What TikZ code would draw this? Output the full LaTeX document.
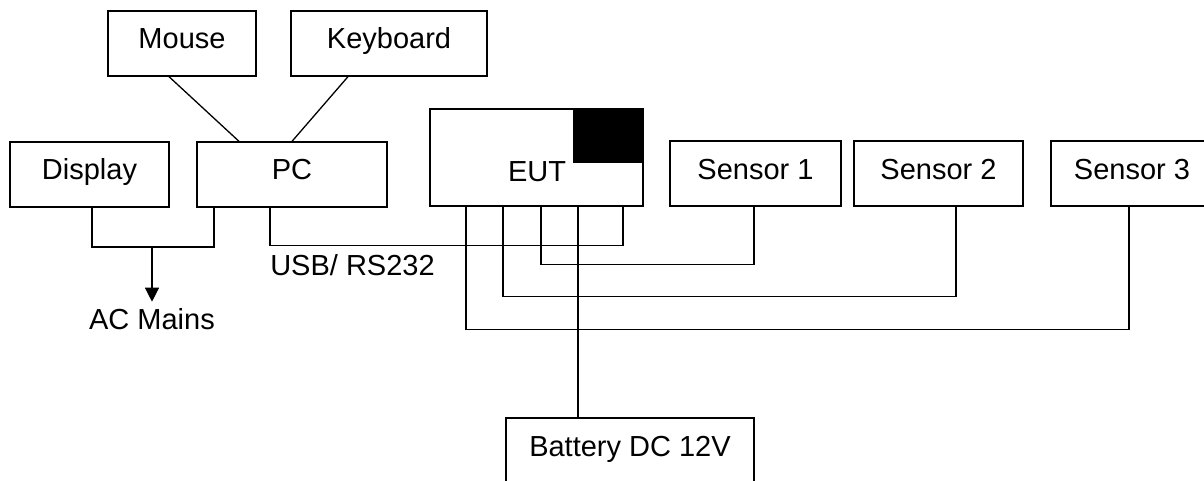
\documentclass[tikz,border=0pt]{standalone}
\usepackage{fontspec}
\setmainfont{Liberation Sans}
\usetikzlibrary{arrows.meta,positioning}
\newcommand{\diagfont}{\fontsize{29}{34}\selectfont}
\begin{document}
\begin{tikzpicture}[x=1pt,y=-1pt,line width=1.3pt,>={Triangle[width=14pt,length=14pt]},
   every node/.style={font=\diagfont},
   box/.style={draw,line width=1.3pt,minimum height=65pt,inner sep=0pt,
     text height=21pt,text depth=10pt}]
  \clip (0,0) rectangle (1204,481);
  \node[box,minimum width=148pt] (mouse) at (182,43.5) {Mouse};
  \node[box,minimum width=196pt] (keyboard) at (389,43.5) {Keyboard};
  \node[box,minimum width=159pt] (display) at (89.5,174.5) {Display};
  \node[box,minimum width=190pt] (pc) at (292,174.5) {PC};
  \node[box,minimum width=213pt,minimum height=97pt] (eut) at (536.5,157.5) {};
  \fill (eut.north east) rectangle ++(-71,55);
  \node (euttext) at (537,172) {EUT};
  \node[box,minimum width=171pt] (sensor1) at (755.5,173.5) {Sensor 1};
  \node[box,minimum width=169pt] (sensor2) at (938.5,173.5) {Sensor 2};
  \node[box,minimum width=162pt] (sensor3) at (1132,173.5) {Sensor 3};
  \node[box,minimum width=248pt] (battery) at (630,450.5) {Battery DC 12V};
  \node[inner sep=6pt] (acmains) at (152,319) {AC Mains};
  \node (usblabel) at (352.5,265) {USB/ RS232};
  \coordinate (acjoin) at (152,247);
  \draw ([xshift=-13pt]mouse.south) -- ([xshift=-53pt]pc.north);
  \draw ([xshift=-41pt]keyboard.south) -- (pc.north);
  \draw ([xshift=2.5pt]display.south) |- (acjoin) -| ([xshift=-78pt]pc.south);
  \draw[->] (acjoin) -- (acmains);
  \draw ([xshift=-22pt]pc.south) -- ++(0,38) -| ([xshift=86.5pt]eut.south);
  \draw ([xshift=4.5pt]eut.south) -- ++(0,58) -| ([xshift=-1.5pt]sensor1.south);
  \draw ([xshift=-33.5pt]eut.south) -- ++(0,90) -| ([xshift=17.5pt]sensor2.south);
  \draw ([xshift=-70.5pt]eut.south) -- ++(0,123) -| ([xshift=-3pt]sensor3.south);
  \draw ([xshift=41.5pt]eut.south) -- ([xshift=41.5pt]eut.south |- battery.north);
\end{tikzpicture}
\end{document}
